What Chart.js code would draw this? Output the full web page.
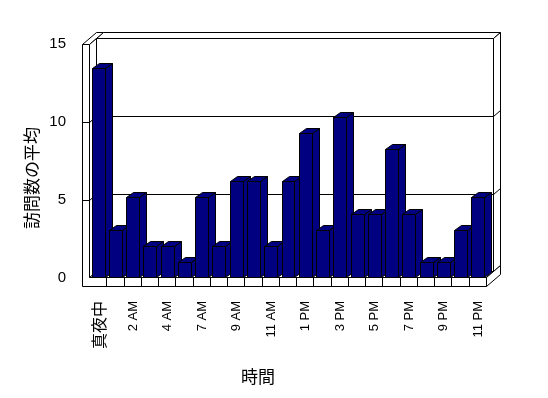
<!DOCTYPE html>
<html>
<head>
<meta charset="utf-8">
<script src="https://cdn.jsdelivr.net/npm/chart.js@4/dist/chart.umd.min.js"></script>
<style>
  html, body { margin: 0; padding: 0; background: #fff; }
</style>
</head>
<body>
<canvas id="visits-by-hour" width="548" height="398"></canvas>
<script>
// hours of the day (one hour has no data in the source)
var hours = ['真夜中', '1 AM', '2 AM', '3 AM', '4 AM', '5 AM', '7 AM', '8 AM', '9 AM', '10 AM',
             '11 AM', '正午', '1 PM', '2 PM', '3 PM', '4 PM', '5 PM', '6 PM', '7 PM', '8 PM',
             '9 PM', '10 PM', '11 PM'];
var avgVisits = [13.43, 3.10, 5.17, 2.07, 2.07, 1.03, 5.17, 2.07, 6.20, 6.20,
                 2.07, 6.20, 9.30, 3.10, 10.33, 4.13, 4.13, 8.27, 4.13, 1.03,
                 1.03, 3.10, 5.17];
var yTicks = [0, 5, 10, 15];
var labelStep = 2;
var xTitle = '時間';
var yTitle = '訪問数の平均';

var DX = 7, DY = -6;   // depth of the plot box
var BDX = 7, BDY = -5; // depth of a bar
var NAVY = '#000080';

function poly(ctx, pts, fill) {
  ctx.beginPath();
  ctx.moveTo(pts[0][0], pts[0][1]);
  for (var i = 1; i < pts.length; i++) ctx.lineTo(pts[i][0], pts[i][1]);
  ctx.closePath();
  if (fill) { ctx.fillStyle = fill; ctx.fill(); }
  ctx.stroke();
}

function line(ctx, x1, y1, x2, y2) {
  ctx.beginPath();
  ctx.moveTo(x1, y1);
  ctx.lineTo(x2, y2);
  ctx.stroke();
}

var frame3d = {
  id: 'frame3d',
  beforeDatasetsDraw: function(chart) {
    var ctx = chart.ctx, a = chart.chartArea, ys = chart.scales.y, xs = chart.scales.x;
    var x0 = Math.round(a.left) - 0.5;
    var xR = Math.round(a.right) - 0.5;
    var yT = Math.round(ys.getPixelForValue(yTicks[yTicks.length - 1])) + 0.5;
    var yB = Math.round(ys.getPixelForValue(0)) - 0.5;
    var xo = x0 - 7, yF = yB + 9;
    ctx.save();
    ctx.strokeStyle = '#000';
    ctx.lineWidth = 1;

    // back wall
    poly(ctx, [[x0 + DX, yT + DY], [x0 + 2 * DX, yT + 2 * DY], [xR + 2 * DX, yT + 2 * DY], [xR + DX, yT + DY]], '#fff');
    poly(ctx, [[xR + DX, yT + DY], [xR + 2 * DX, yT + 2 * DY], [xR + 2 * DX, yB + 2 * DY], [xR + DX, yB + DY]], '#fff');
    poly(ctx, [[x0 + DX, yT + DY], [xR + DX, yT + DY], [xR + DX, yB + DY], [x0 + DX, yB + DY]], '#fff');

    // floor
    poly(ctx, [[x0, yB], [xR, yB], [xR + DX, yB + DY], [x0 + DX, yB + DY]], '#fff');
    poly(ctx, [[xR, yB], [xR, yF], [xR + 2 * DX, yF + 2 * DY], [xR + 2 * DX, yB + 2 * DY]], '#fff');

    // left wall
    poly(ctx, [[xo, yT], [x0, yT], [x0 + 2 * DX, yT + 2 * DY], [xo + 2 * DX, yT + 2 * DY]], '#fff');
    poly(ctx, [[x0, yT], [x0 + DX, yT + DY], [x0 + DX, yB + DY], [x0, yB]], '#fff');
    poly(ctx, [[xo, yT], [x0, yT], [x0, yB], [xR, yB], [xR, yF], [xo, yF]], '#fff');

    // gridlines / ticks
    for (var i = 1; i < yTicks.length - 1; i++) {
      var y = Math.round(ys.getPixelForValue(yTicks[i])) + 0.5;
      line(ctx, xo, y, x0, y);
      line(ctx, x0, y, x0 + DX, y + DY);
      line(ctx, x0 + DX, y + DY, xR + DX, y + DY);
      line(ctx, xR + DX, y + DY, xR + 2 * DX, y + 2 * DY);
    }
    // category separators on the floor edge
    for (var k = 1; k < hours.length; k++) {
      var x = Math.round((xs.getPixelForValue(k - 1) + xs.getPixelForValue(k)) / 2) - 0.5;
      line(ctx, x, yB, x, yF);
    }
    ctx.restore();
  },
  afterDatasetsDraw: function(chart) {
    var ctx = chart.ctx;
    var meta = chart.getDatasetMeta(0);
    ctx.save();
    ctx.strokeStyle = '#000';
    ctx.lineWidth = 1;
    meta.data.forEach(function(bar) {
      var p = bar.getProps(['x', 'y', 'base', 'width'], true);
      var x1 = Math.round(p.x - p.width / 2) + 0.5;
      var x2 = Math.round(p.x + p.width / 2) - 0.5;
      var yt = Math.round(p.y) + 0.5;
      var yb = Math.round(p.base) - 0.5;
      poly(ctx, [[x2, yt], [x2 + BDX, yt + BDY], [x2 + BDX, yb + BDY], [x2, yb]], NAVY);
      poly(ctx, [[x1, yt], [x1 + BDX, yt + BDY], [x2 + BDX, yt + BDY], [x2, yt]], NAVY);
      poly(ctx, [[x1, yt], [x2, yt], [x2, yb], [x1, yb]], NAVY);
    });
    ctx.restore();
  },
  afterDraw: function(chart) {
    var ctx = chart.ctx;
    ctx.save();
    ctx.fillStyle = '#000';
    ctx.font = '17px "Noto Sans CJK JP"';
    ctx.textAlign = 'center';
    ctx.textBaseline = 'middle';
    ctx.fillText(xTitle, 258, 377);
    ctx.translate(32, 178);
    ctx.rotate(-Math.PI / 2);
    ctx.fillText(yTitle, 0, 0);
    ctx.restore();
  }
};

var ctx = document.getElementById('visits-by-hour');
var chart = new Chart(ctx, {
  type: 'bar',
  data: {
    labels: hours,
    datasets: [{
      label: yTitle,
      data: avgVisits,
      backgroundColor: 'rgba(0,0,0,0)',
      borderWidth: 0,
      categoryPercentage: 1.0,
      barPercentage: 0.81
    }]
  },
  options: {
    responsive: false,
    animation: false,
    layout: { padding: { left: 0, top: 44, right: 61, bottom: 0 } },
    plugins: { legend: { display: false }, tooltip: { enabled: false } },
    scales: {
      x: {
        grid: { display: false, drawTicks: false },
        border: { display: false },
        afterFit: function(s) { s.height = 120; },
        ticks: {
          autoSkip: false,
          minRotation: 90,
          maxRotation: 90,
          padding: 23,
          color: '#000',
          font: function(c) {
            return c.index === 0 ? { family: '"Noto Sans CJK JP"', size: 16 }
                                 : { family: '"Liberation Sans", Arial, sans-serif', size: 13 };
          },
          callback: function(val, i) {
            return i % labelStep === 0 ? this.getLabelForValue(val) : '';
          }
        }
      },
      y: {
        min: yTicks[0],
        max: yTicks[yTicks.length - 1],
        grid: { display: false, drawTicks: false },
        border: { display: false },
        afterFit: function(s) { s.width = 90; },
        ticks: {
          stepSize: 5,
          padding: 24,
          color: '#000',
          font: { family: '"Liberation Sans", Arial, sans-serif', size: 15 }
        }
      }
    }
  },
  plugins: [frame3d]
});
</script>
</body>
</html>
